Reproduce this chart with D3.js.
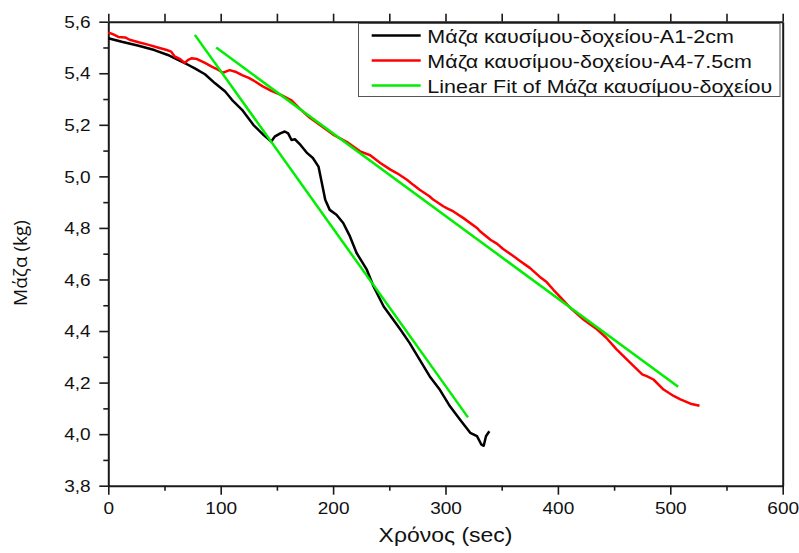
<!DOCTYPE html>
<html>
<head>
<meta charset="utf-8">
<script src="https://cdn.jsdelivr.net/npm/d3@7"></script>
<style>
  html, body { margin: 0; padding: 0; background: #fff; }
  svg { display: block; }
  text { font-family: "Liberation Sans", Arial, sans-serif; fill: #111; }
</style>
</head>
<body>
<svg id="chart" width="799" height="553"></svg>
<script>
// Fuel-tank mass over time for two runs, with linear fits
const timeA1 = [0, 12, 27, 41, 53, 62, 70, 77, 86, 95, 104, 110, 119, 129, 138, 145, 148, 153, 157, 160, 163, 166, 171, 177, 182, 187, 190, 193, 197, 203, 209, 215, 221, 230, 236, 245, 260, 268, 277, 286, 295, 304, 313, 322, 328, 332, 334, 336, 339];
const massA1 = [5.536, 5.522, 5.507, 5.490, 5.471, 5.452, 5.435, 5.419, 5.396, 5.361, 5.329, 5.297, 5.258, 5.200, 5.161, 5.135, 5.154, 5.167, 5.174, 5.167, 5.141, 5.144, 5.122, 5.090, 5.071, 5.038, 4.974, 4.909, 4.870, 4.851, 4.819, 4.767, 4.702, 4.638, 4.573, 4.495, 4.405, 4.354, 4.289, 4.224, 4.172, 4.108, 4.056, 4.005, 3.992, 3.959, 3.955, 3.992, 4.011];

const timeA4 = [0, 4, 9, 15, 19, 27, 36, 44, 52, 56, 59, 64, 68, 71, 74, 79, 86, 92, 98, 102, 105, 108, 113, 119, 125, 131, 137, 145, 154, 163, 171, 179, 188, 200, 212, 224, 233, 242, 251, 257, 266, 271, 277, 286, 289, 298, 301, 307, 316, 328, 331, 340, 346, 351, 360, 366, 375, 384, 390, 396, 403, 411, 423, 435, 443, 452, 464, 475, 479, 485, 494, 503, 509, 518, 526];
const massA4 = [5.558, 5.552, 5.541, 5.539, 5.530, 5.520, 5.510, 5.500, 5.490, 5.484, 5.465, 5.455, 5.440, 5.452, 5.458, 5.455, 5.440, 5.426, 5.413, 5.402, 5.407, 5.412, 5.406, 5.393, 5.382, 5.367, 5.350, 5.332, 5.315, 5.295, 5.260, 5.228, 5.200, 5.162, 5.134, 5.097, 5.082, 5.052, 5.026, 5.012, 4.986, 4.968, 4.948, 4.922, 4.910, 4.884, 4.877, 4.864, 4.838, 4.800, 4.786, 4.754, 4.738, 4.719, 4.692, 4.673, 4.645, 4.610, 4.590, 4.560, 4.528, 4.490, 4.444, 4.406, 4.374, 4.330, 4.278, 4.232, 4.225, 4.212, 4.173, 4.148, 4.135, 4.118, 4.110];

// Linear fits: [intercept, slope] and the time span each fit covers
const fitA1Coef = [6.019, -0.006106];
const fitA1Range = [77, 320];
const fitA4Coef = [5.807, -0.003202];
const fitA4Range = [96, 507];

const seriesNames = [
  "Μάζα καυσίμου-δοχείου-A1-2cm",
  "Μάζα καυσίμου-δοχείου-A4-7.5cm",
  "Linear Fit of Μάζα καυσίμου-δοχείου"
];
const seriesColors = ["#000000", "#ff0000", "#00ee00"];

const xTicks = [0, 100, 200, 300, 400, 500, 600];
const xTickLabels = ["0", "100", "200", "300", "400", "500", "600"];
const xMinorTicks = [50, 150, 250, 350, 450, 550];
const yTicks = [3.8, 4.0, 4.2, 4.4, 4.6, 4.8, 5.0, 5.2, 5.4, 5.6];
const yTickLabels = ["3,8", "4,0", "4,2", "4,4", "4,6", "4,8", "5,0", "5,2", "5,4", "5,6"];
const yMinorTicks = [3.9, 4.1, 4.3, 4.5, 4.7, 4.9, 5.1, 5.3, 5.5];

const xTitle = "Χρόνος (sec)";
const yTitle = "Μάζα (kg)";

// Layout
const plot = { left: 108.3, right: 782.7, top: 21.7, bottom: 485.7 };
const stretch = 1.12; // horizontal text widening

const svg = d3.select("#chart");

const x = d3.scaleLinear().domain([0, 600]).range([plot.left, plot.right]);
const y = d3.scaleLinear().domain([3.8, 5.6]).range([plot.bottom, plot.top]);

// Axes
const axisColor = "#1a1a1a";
function styleAxis(g) {
  g.selectAll("path.domain").attr("stroke", axisColor).attr("stroke-width", 2);
  g.selectAll(".tick line").attr("stroke", axisColor).attr("stroke-width", 1.6);
}

// left: major with labels, minor without
const gLeft = svg.append("g").attr("transform", `translate(${plot.left},0)`)
  .call(d3.axisLeft(y).tickValues(yTicks).tickSize(9).tickSizeOuter(0)
    .tickFormat((d, i) => yTickLabels[i]));
styleAxis(gLeft);
gLeft.selectAll(".tick text")
  .attr("x", 0).attr("dy", null)
  .attr("dominant-baseline", "central")
  .attr("transform", `translate(-17.6,0) scale(${stretch},1)`)
  .style("font-size", "17px")
  .style("font-family", '"Liberation Sans", Arial, sans-serif')
  .attr("fill", "#111");

const gLeftMinor = svg.append("g").attr("transform", `translate(${plot.left},0)`)
  .call(d3.axisLeft(y).tickValues(yMinorTicks).tickSize(5).tickSizeOuter(0).tickFormat(""));
styleAxis(gLeftMinor);
gLeftMinor.select("path.domain").remove();

// bottom
const gBottom = svg.append("g").attr("transform", `translate(0,${plot.bottom})`)
  .call(d3.axisBottom(x).tickValues(xTicks).tickSize(9).tickSizeOuter(0)
    .tickFormat((d, i) => xTickLabels[i]));
styleAxis(gBottom);
gBottom.selectAll(".tick text")
  .attr("y", 0).attr("dy", null)
  .attr("dominant-baseline", "central")
  .attr("transform", `translate(0,23) scale(${stretch},1)`)
  .style("font-size", "17px")
  .style("font-family", '"Liberation Sans", Arial, sans-serif')
  .attr("fill", "#111");

const gBottomMinor = svg.append("g").attr("transform", `translate(0,${plot.bottom})`)
  .call(d3.axisBottom(x).tickValues(xMinorTicks).tickSize(5).tickSizeOuter(0).tickFormat(""));
styleAxis(gBottomMinor);
gBottomMinor.select("path.domain").remove();

// top: ticks pointing outward, all the same length
const gTop = svg.append("g").attr("transform", `translate(0,${plot.top})`)
  .call(d3.axisTop(x).tickValues(d3.merge([xTicks, xMinorTicks])).tickSize(8).tickSizeOuter(0).tickFormat(""));
styleAxis(gTop);

// right: plain frame line
const gRight = svg.append("g").attr("transform", `translate(${plot.right},0)`)
  .call(d3.axisRight(y).tickValues([]).tickSizeOuter(0));
styleAxis(gRight);

// Data lines
const line = d3.line().x(d => x(d[0])).y(d => y(d[1]));

const ptsA1 = timeA1.map((t, i) => [t, massA1[i]]);
const ptsA4 = timeA4.map((t, i) => [t, massA4[i]]);
const fitPts = (coef, range) => range.map(t => [t, coef[0] + coef[1] * t]);

const lines = svg.append("g").attr("fill", "none")
  .attr("stroke-linejoin", "round").attr("stroke-linecap", "butt");

lines.append("path").datum(ptsA1).attr("d", line)
  .attr("stroke", seriesColors[0]).attr("stroke-width", 2.5);
lines.append("path").datum(ptsA4).attr("d", line)
  .attr("stroke", seriesColors[1]).attr("stroke-width", 2.5);
lines.append("path").datum(fitPts(fitA1Coef, fitA1Range)).attr("d", line)
  .attr("stroke", seriesColors[2]).attr("stroke-width", 2.5);
lines.append("path").datum(fitPts(fitA4Coef, fitA4Range)).attr("d", line)
  .attr("stroke", seriesColors[2]).attr("stroke-width", 2.5);

// Axis titles
svg.append("text")
  .attr("transform", `translate(${(plot.left + plot.right) / 2},542) scale(${stretch},1)`)
  .attr("text-anchor", "middle")
  .style("font-size", "20.5px")
  .text(xTitle);

svg.append("text")
  .attr("transform", "translate(26.5,263) rotate(-90)")
  .attr("text-anchor", "middle")
  .style("font-family", '"Open Sans", sans-serif')
  .style("font-size", "19px")
  .text(yTitle);

// Legend
const legend = svg.append("g");
legend.append("rect")
  .attr("x", 358.5).attr("y", 23.5).attr("width", 421.5).attr("height", 73)
  .attr("fill", "#fff").attr("stroke", "#555").attr("stroke-width", 1);

const legendRowY = [35.5, 60.5, 85.5];
seriesNames.forEach((name, i) => {
  legend.append("line")
    .attr("x1", 371.7).attr("x2", 420.7)
    .attr("y1", legendRowY[i]).attr("y2", legendRowY[i])
    .attr("stroke", seriesColors[i]).attr("stroke-width", 2.5);
  legend.append("text")
    .attr("transform", `translate(427.3,${legendRowY[i] + 7}) scale(${stretch},1)`)
    .style("font-size", "19.2px")
    .text(name);
});
</script>
</body>
</html>
